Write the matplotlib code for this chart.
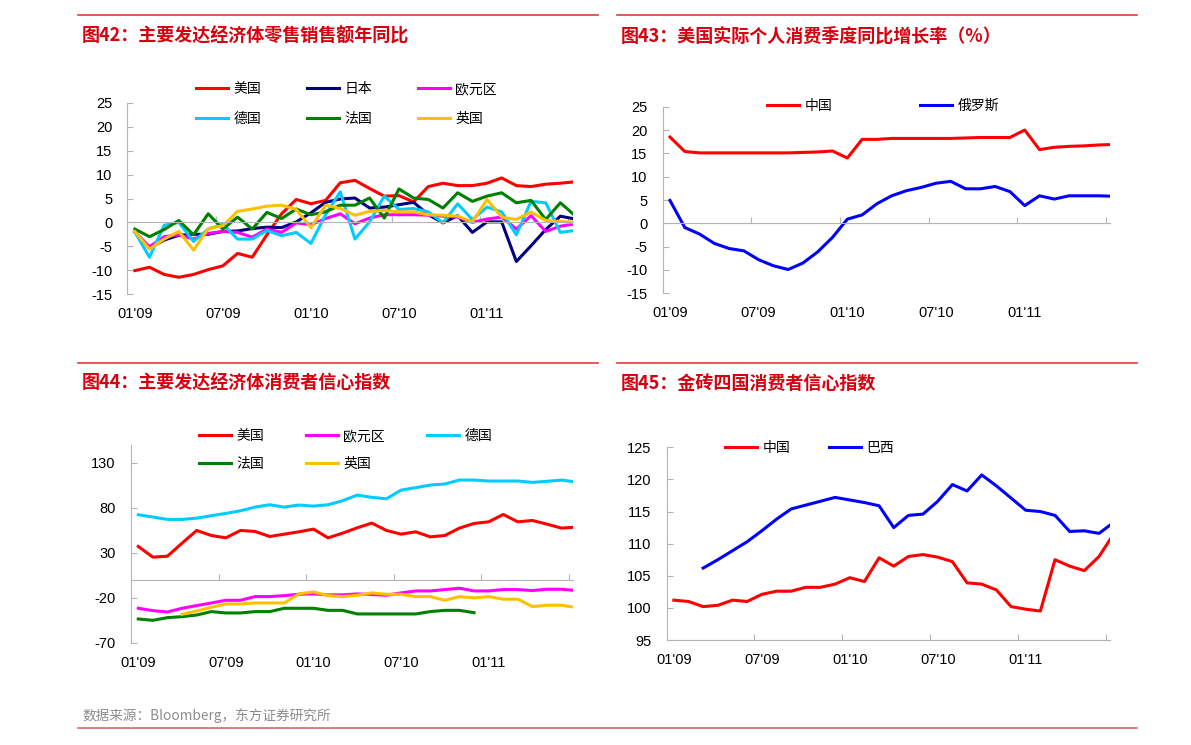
import numpy as np
import matplotlib.pyplot as plt
from matplotlib.lines import Line2D

plt.rcParams['font.family'] = ['Liberation Sans', 'Noto Sans CJK SC', 'DejaVu Sans']
plt.rcParams['axes.unicode_minus'] = False

W, H = 1191, 745
CJK = ['Noto Sans CJK SC', 'DejaVu Sans']

# ---------------------------------------------------------------------------
# DATA (monthly, 01'09 onwards)
# ---------------------------------------------------------------------------
month_labels = ["01'09", "07'09", "01'10", "07'10", "01'11"]
label_months = [0, 6, 12, 18, 24]
tick_months = [5.5, 11.5, 17.5, 23.5, 29.5]

# fig 42: retail sales yoy
names42 = ["美国", "日本", "欧元区", "德国", "法国", "英国"]
us_retail = [-10.1, -9.4, -10.9, -11.5, -10.9, -9.9, -9.1, -6.5, -7.3, -2.6, 1.8, 4.8, 3.9, 4.6, 8.3, 8.8,
             7.1, 5.5, 5.6, 4.3, 7.5, 8.2, 7.7, 7.7, 8.2, 9.3, 7.7, 7.5, 8.0, 8.2, 8.5]
jp_retail = [-2.0, -5.4, -3.7, -2.7, -2.5, -2.5, -1.9, -1.8, -1.3, -1.0, -1.1, 0.1, 2.0, 4.2, 4.9, 5.1,
             3.0, 3.2, 3.7, 4.2, 1.6, -0.1, 1.4, -2.1, 0.1, 0.1, -8.2, -4.9, -1.5, 1.3, 0.7]
ez_retail = [-2.0, -5.1, -3.0, -2.6, -3.5, -2.3, -1.9, -2.1, -3.1, -1.4, -2.1, -0.1, -0.5, 0.8, 1.8, -0.3,
             0.9, 1.6, 1.6, 1.6, 1.5, 1.3, 1.1, 0.0, 0.7, 1.1, -1.4, 1.4, -1.9, -0.8, -0.3]
de_retail = [-2.0, -7.3, -0.6, 0.0, -4.0, -1.4, -0.4, -3.5, -3.5, -1.7, -2.8, -2.1, -4.4, 1.6, 6.4, -3.5,
             0.1, 5.5, 2.7, 2.9, 2.2, -0.1, 3.9, 0.6, 3.2, 2.2, -2.6, 4.4, 4.1, -2.1, -1.7]
fr_retail = [-1.4, -3.0, -1.5, 0.4, -2.6, 1.8, -1.4, 1.1, -1.4, 2.1, 0.8, 2.8, 1.6, 2.2, 3.6, 3.6,
             5.1, 0.9, 7.0, 5.1, 4.8, 3.0, 6.2, 4.4, 5.5, 6.2, 4.1, 4.6, 0.6, 4.1, 1.4]
uk_retail = [-1.9, -5.6, -3.5, -1.9, -5.8, -1.3, -0.7, 2.3, 2.8, 3.4, 3.6, 2.7, -1.1, 3.6, 2.9, 1.5,
             2.3, 2.5, 2.2, 2.2, 1.6, 1.5, 1.3, 0.1, 4.8, 1.1, 0.6, 2.2, 0.4, 0.2, 0.0]

# fig 43: consumption yoy (%)
names43 = ["中国", "俄罗斯"]
cn_cons = [18.5, 15.4, 15.1, 15.1, 15.1, 15.1, 15.1, 15.1, 15.1, 15.2, 15.3, 15.5, 14.0, 18.0, 18.0, 18.2,
           18.2, 18.2, 18.2, 18.2, 18.3, 18.4, 18.4, 18.4, 20.0, 15.8, 16.3, 16.5, 16.6, 16.8, 16.9]
ru_cons = [4.9, -0.9, -2.3, -4.3, -5.4, -5.9, -7.8, -9.1, -9.9, -8.5, -6.1, -3.0, 0.9, 1.8, 4.2, 5.9,
           7.0, 7.7, 8.6, 9.0, 7.4, 7.4, 7.9, 6.8, 3.8, 5.9, 5.2, 5.9, 5.9, 5.9, 5.8]

# fig 44: developed consumer confidence
names44 = ["美国", "欧元区", "德国", "法国", "英国"]
us_conf = [37.1, 25.2, 26.3, 40.8, 54.9, 49.3, 46.7, 54.9, 53.8, 48.2, 50.8, 53.4, 56.4, 46.7, 51.9, 57.9,
           63.1, 54.9, 50.8, 53.4, 47.8, 49.3, 57.5, 62.7, 64.5, 72.7, 64.5, 66.0, 61.9, 57.5, 58.6]
ez_conf = [-31.7, -34.3, -35.8, -31.7, -28.7, -25.8, -22.8, -22.8, -18.7, -18.7, -17.6, -16.1, -15.7, -16.8,
           -16.8, -15.7, -16.4, -17.2, -14.6, -12.4, -12.4, -10.9, -9.4, -12.4, -12.4, -10.9, -10.9, -12.0,
           -10.5, -10.5, -12.0]
de_conf = [72.4, 69.8, 67.2, 67.2, 68.6, 71.3, 73.9, 76.8, 80.9, 83.5, 80.9, 83.2, 82.0, 83.5, 88.0, 94.3,
           91.7, 90.2, 99.8, 102.5, 105.4, 106.6, 111.0, 111.0, 109.9, 109.9, 109.9, 108.4, 109.6, 111.0, 108.8]
fr_conf = [-43.6, -45.1, -42.1, -41.0, -39.2, -35.4, -36.9, -36.9, -35.4, -35.4, -31.7, -31.7, -31.7, -34.0,
           -34.0, -38.0, -38.0, -38.0, -38.0, -38.0, -35.4, -34.0, -34.0, -36.6] + [np.nan] * 7
uk_conf = [np.nan] * 3 + [-38.4, -34.7, -30.6, -26.9, -26.9, -25.8, -25.8, -25.8, -15.7, -13.5, -17.6, -18.7,
                          -17.2, -14.6, -16.1, -16.1, -18.7, -18.7, -22.8, -18.7, -20.2, -18.7, -21.6, -21.6,
                          -29.8, -28.3, -28.3, -30.9]

# fig 45: BRIC consumer confidence
names45 = ["中国", "巴西"]
cn_conf = [101.2, 101.0, 100.2, 100.4, 101.2, 101.0, 102.1, 102.6, 102.6, 103.2, 103.2, 103.7, 104.7, 104.1,
           107.8, 106.5, 108.0, 108.3, 107.9, 107.2, 103.9, 103.7, 102.8, 100.2, 99.8, 99.5, 107.5, 106.5,
           105.8, 108.0, 111.5]
br_conf = [np.nan] * 2 + [106.2, 107.5, 108.9, 110.3, 112.0, 113.8, 115.4, 116.0, 116.6, 117.2, 116.8, 116.4,
                          115.9, 112.5, 114.4, 114.6, 116.6, 119.2, 118.2, 120.7, 119.0, 117.1, 115.2, 115.0,
                          114.4, 111.9, 112.0, 111.6, 113.3]

RED, NAVY, MAG, CYAN, GREEN, GOLD, BLUE = "#FF0000", "#000080", "#FF00FF", "#00CCFF", "#008000", "#FFC000", "#0000FF"
TITLE_RED = "#D7000F"
AXIS_GREY = "#B4B4B4"
TICK_FS = 10.5

fig = plt.figure(figsize=(W / 100, H / 100), dpi=100)


def px_axes(x0, y0, x1, y1):
    return fig.add_axes([x0 / W, 1 - y1 / H, (x1 - x0) / W, (y1 - y0) / H])


def style_axes(ax, ylim, yticks, xright, zero_axis=True):
    ax.set_xlim(-0.5, xright)
    ax.set_ylim(*ylim)
    ax.set_yticks(yticks)
    for s in ["top", "right"]:
        ax.spines[s].set_visible(False)
    ax.spines["left"].set_color(AXIS_GREY)
    ax.spines["bottom"].set_color(AXIS_GREY)
    if zero_axis:
        ax.spines["bottom"].set_position(("data", 0))
    ax.set_xticks(tick_months)
    ax.tick_params(axis="x", direction="in", length=4, color=AXIS_GREY, labelbottom=False)
    ax.tick_params(axis="y", direction="in", length=4, color=AXIS_GREY, pad=11, labelsize=TICK_FS)
    for m, lab in zip(label_months, month_labels):
        ax.annotate(lab, xy=(m, 0), xycoords=("data", "axes fraction"), xytext=(0, -14.5),
                    textcoords="offset points", ha="center", va="center", fontsize=TICK_FS)


def px_legend(ax, handles, labels, order, x, y, ncol, colsp, rowsp=1.15):
    # matplotlib fills legend columns first; reorder so entries run row by row
    ax.legend([handles[i] for i in order], [labels[i] for i in order], loc="upper left",
              bbox_to_anchor=(x / W, 1 - y / H), bbox_transform=fig.transFigure, ncol=ncol,
              frameon=False, borderpad=0, borderaxespad=0, handlelength=2.3, handletextpad=0.4,
              columnspacing=colsp, labelspacing=rowsp, prop={"family": CJK, "size": 10})


# ---- fig 42 ----
ax1 = px_axes(127.5, 103, 573, 294)
series42 = [us_retail, jp_retail, ez_retail, de_retail, fr_retail, uk_retail]
colors42 = [RED, NAVY, MAG, CYAN, GREEN, GOLD]
h42 = []
for vals, c in zip(series42, colors42):
    h42.append(ax1.plot(np.arange(len(vals)), vals, color=c, lw=2.2)[0])
style_axes(ax1, (-15, 25), np.arange(-15, 26, 5), 29.86)
px_legend(ax1, h42, names42, [0, 3, 1, 4, 2, 5], 196, 82, 3, 3.28)

# ---- fig 43 ----
ax2 = px_axes(662.6, 106.7, 1110, 293.3)
h43 = []
for vals, c in zip([cn_cons, ru_cons], [RED, BLUE]):
    h43.append(ax2.plot(np.arange(len(vals)), vals, color=c, lw=2.2)[0])
style_axes(ax2, (-15, 25), np.arange(-15, 26, 5), 29.77)
px_legend(ax2, h43, names43, [0, 1], 767, 99, 2, 6.3)

# ---- fig 44 ----
ax3 = px_axes(131, 445, 573.3, 642.7)
series44 = [us_conf, ez_conf, de_conf, fr_conf, uk_conf]
colors44 = [RED, MAG, CYAN, GREEN, GOLD]
h44 = []
for vals, c in zip(series44, colors44):
    h44.append(ax3.plot(np.arange(len(vals)), vals, color=c, lw=2.2)[0])
style_axes(ax3, (-70, 150), [-70, -20, 30, 80, 130], 29.8)
px_legend(ax3, h44, names44, [0, 3, 1, 4, 2], 199, 429, 3, 3.0, rowsp=1.0)

# ---- fig 45 ----
ax4 = px_axes(666.5, 447.3, 1110, 640)
h45 = []
for vals, c in zip([cn_conf, br_conf], [RED, BLUE]):
    h45.append(ax4.plot(np.arange(len(vals)), vals, color=c, lw=2.2)[0])
style_axes(ax4, (95, 125), np.arange(95, 126, 5), 29.75, zero_axis=False)
px_legend(ax4, h45, names45, [0, 1], 725, 441, 2, 2.78)

# ---- titles, rules, footer ----
titles = [("图42：主要发达经济体零售销售额年同比", 82, 36),
          ("图43：美国实际个人消费季度同比增长率（%）", 621, 36),
          ("图44：主要发达经济体消费者信心指数", 82, 383),
          ("图45：金砖四国消费者信心指数", 621, 383)]
for txt, x, y in titles:
    fig.text(x / W, 1 - y / H, txt, family=CJK, fontsize=13, fontweight="bold",
             color=TITLE_RED, ha="left", va="center")

for (x0, x1, y) in [(78, 598, 15), (617, 1137, 15), (78, 598, 363), (617, 1137, 363)]:
    fig.add_artist(Line2D([x0 / W, x1 / W], [1 - y / H, 1 - y / H], color="#E03C3C", lw=1.2))
fig.add_artist(Line2D([78 / W, 1137 / W], [1 - 728 / H, 1 - 728 / H], color="#D46A6A", lw=1.2))

fig.text(82 / W, 1 - 716 / H, "数据来源：Bloomberg，东方证券研究所", family=CJK, fontsize=9.8,
         color="#8C8C8C", ha="left", va="center")

fig.savefig("out.png", dpi=100)
